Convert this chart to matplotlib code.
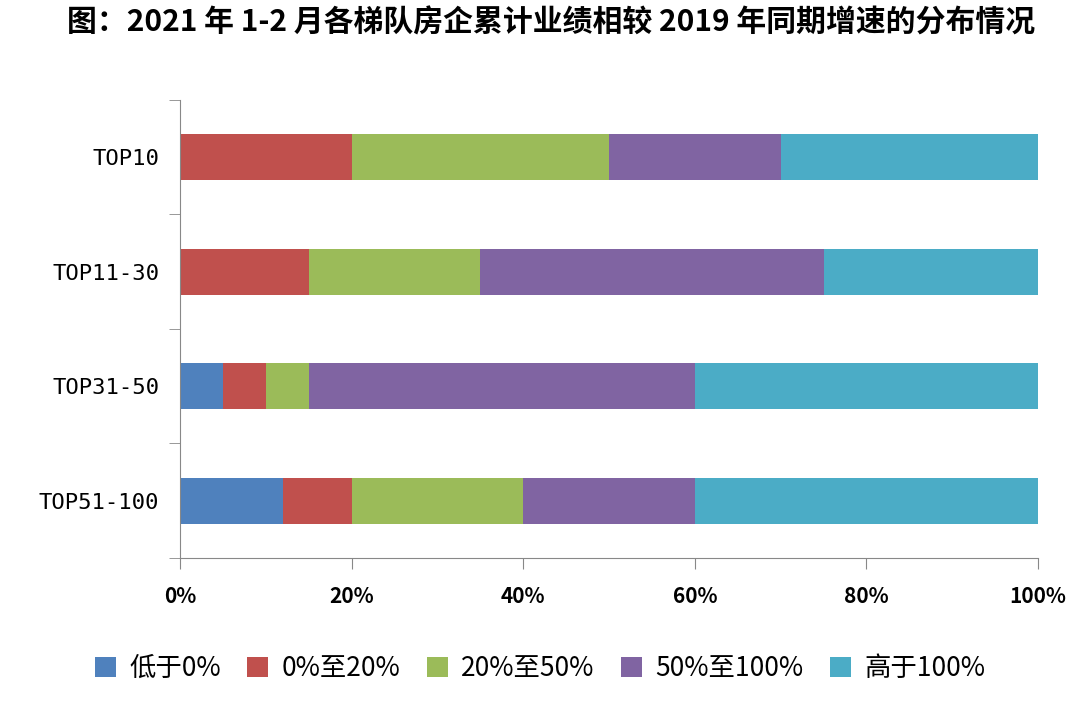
import numpy as np
import matplotlib.pyplot as plt
from matplotlib.ticker import FixedLocator, PercentFormatter

plt.rcParams['font.family'] = ['Noto Sans CJK SC', 'DejaVu Sans']

# -------------------------
# DATA
# -------------------------
groups = ["TOP10", "TOP11-30", "TOP31-50", "TOP51-100"]
series = ["低于0%", "0%至20%", "20%至50%", "50%至100%", "高于100%"]
below0 = [0, 0, 5, 12]
p0_20 = [20, 15, 5, 8]
p20_50 = [30, 20, 5, 20]
p50_100 = [20, 40, 45, 20]
above100 = [30, 25, 40, 40]
colors = ["#4F81BD", "#C0504D", "#9BBB59", "#8064A2", "#4BACC6"]

values = [below0, p0_20, p20_50, p50_100, above100]

# -------------------------
# PLOT
# -------------------------
fig = plt.figure(figsize=(10.8, 7.19), dpi=100)
ax = fig.add_axes([0.1667, 0.224, 0.7944, 0.637])

y = np.arange(len(groups))
left = np.zeros(len(groups))
for vals, name, c in zip(values, series, colors):
    ax.barh(y, vals, left=left, height=0.4, color=c, label=name)
    left += np.array(vals)

ax.set_xlim(0, 100)
ax.set_ylim(len(groups) - 0.5, -0.5)
ax.set_yticks(y)
ax.set_yticklabels(groups, fontsize=16, family=['DejaVu Sans Mono'])
ax.yaxis.set_minor_locator(FixedLocator(np.arange(-0.5, len(groups), 1)))
ax.tick_params(axis='y', which='major', length=0, pad=15)
ax.tick_params(axis='y', which='minor', length=8, color='#888888')

ax.set_xticks(np.arange(0, 101, 20))
ax.xaxis.set_major_formatter(PercentFormatter(decimals=0))
ax.tick_params(axis='x', length=8, color='#888888', pad=12)
for lbl in ax.get_xticklabels():
    lbl.set_fontweight('bold')
    lbl.set_fontsize(15)

for s in ['top', 'right']:
    ax.spines[s].set_visible(False)
for s in ['left', 'bottom']:
    ax.spines[s].set_color('#888888')

fig.suptitle("图：2021 年 1-2 月各梯队房企累计业绩相较 2019 年同期增速的分布情况",
             fontsize=21.5, fontweight='bold', x=0.51, y=0.99)

fig.legend(loc='center', bbox_to_anchor=(0.50, 0.07), ncol=5, frameon=False,
           fontsize=19, handlelength=0.8, handleheight=0.8, columnspacing=1.0,
           handletextpad=0.5)

plt.savefig("out.png", dpi=100)
